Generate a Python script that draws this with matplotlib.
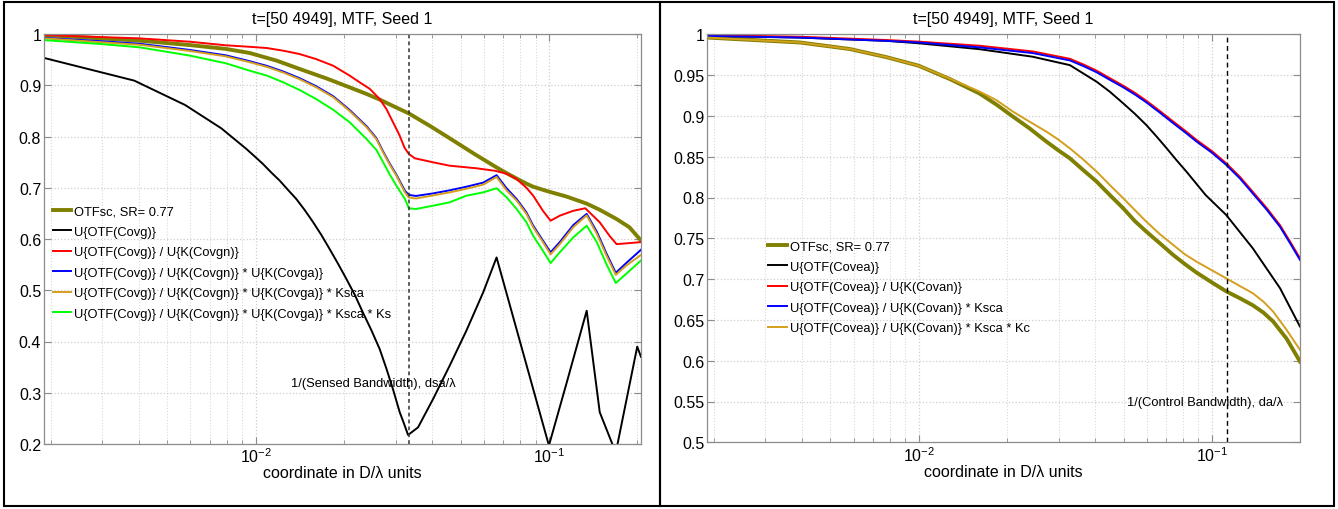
import matplotlib
matplotlib.use('Agg')
import matplotlib.pyplot as plt
from matplotlib.lines import Line2D
from matplotlib.ticker import LogLocator, FixedLocator, NullFormatter

plt.rcParams['font.family'] = ['Liberation Sans', 'DejaVu Sans']

W, H = 1338, 510

# ---- left panel: sensed (Covg) ----
L_OTFSC_X = [0.00191, 0.00297, 0.00402, 0.00595, 0.0079, 0.00954, 0.0118, 0.0141, 0.0175, 0.0209,
             0.0239, 0.0265, 0.0298, 0.0333, 0.0392, 0.0459, 0.0557, 0.0657, 0.0717, 0.0776,
             0.0838, 0.0884, 0.0954, 0.1006, 0.115, 0.1345, 0.149, 0.17, 0.188, 0.206]
L_OTFSC_Y = [0.998, 0.9915, 0.987, 0.9785, 0.971, 0.963, 0.948, 0.932, 0.913, 0.896,
             0.883, 0.872, 0.858, 0.845, 0.821, 0.7965, 0.766, 0.741, 0.7285, 0.718,
             0.708, 0.702, 0.696, 0.692, 0.6827, 0.669, 0.657, 0.639, 0.623, 0.597]

L_BLACK_X = [0.00191, 0.00386, 0.00575, 0.00764, 0.00929, 0.00992, 0.0106, 0.0113, 0.01208, 0.01289,
             0.01377, 0.0147, 0.0157, 0.01676, 0.0179, 0.0191, 0.0204, 0.0218, 0.0232, 0.0248,
             0.0265, 0.0279, 0.0294, 0.031, 0.0320, 0.0331, 0.0358, 0.0403, 0.0459, 0.0523,
             0.0597, 0.0663, 0.0884, 0.1, 0.115, 0.1345, 0.149, 0.169, 0.2, 0.206]
L_BLACK_Y = [0.953, 0.909, 0.8615, 0.816, 0.776, 0.7614, 0.7463, 0.730, 0.714, 0.696,
             0.678, 0.6566, 0.633, 0.6078, 0.580, 0.5518, 0.522, 0.4907, 0.457, 0.4224,
             0.385, 0.3477, 0.307, 0.262, 0.241, 0.2176, 0.2325, 0.288, 0.353, 0.421,
             0.496, 0.564, 0.307, 0.197, 0.320, 0.460, 0.262, 0.183, 0.390, 0.370]

L_RED_X = [0.00191, 0.00297, 0.00402, 0.00595, 0.0079, 0.00954, 0.0109, 0.0124, 0.0141, 0.0161,
           0.0184, 0.0209, 0.0226, 0.0245, 0.0265, 0.0279, 0.0294, 0.031, 0.0322, 0.0333,
           0.0349, 0.0403, 0.0459, 0.0566, 0.0657, 0.072, 0.0776, 0.0838, 0.0884, 0.0954,
           0.1013, 0.1089, 0.121, 0.133, 0.149, 0.161, 0.170, 0.188, 0.206]
L_RED_Y = [0.998, 0.994, 0.9915, 0.985, 0.978, 0.975, 0.9727, 0.9675, 0.961, 0.951,
           0.938, 0.919, 0.906, 0.893, 0.873, 0.854, 0.828, 0.8016, 0.778, 0.766,
           0.7575, 0.7496, 0.743, 0.738, 0.733, 0.727, 0.717, 0.700, 0.6845, 0.655,
           0.6357, 0.6455, 0.655, 0.660, 0.6326, 0.606, 0.590, 0.592, 0.594]

L_COR_X = [0.00191, 0.00297, 0.00402, 0.00595, 0.0079, 0.00954, 0.0109, 0.0124, 0.0141, 0.0161,
           0.0184, 0.0209, 0.0239, 0.0258, 0.0272, 0.0286, 0.0302, 0.0323, 0.0333, 0.0352,
           0.0403, 0.0459, 0.0523, 0.0597, 0.0663, 0.0717, 0.0776, 0.0838, 0.0884, 0.0954,
           0.1013, 0.1089, 0.121, 0.1345, 0.1457, 0.157, 0.169, 0.1833, 0.206]
L_BLUE_Y = [0.9925, 0.986, 0.981, 0.969, 0.9585, 0.947, 0.938, 0.927, 0.914, 0.898,
            0.8785, 0.852, 0.820, 0.797, 0.771, 0.748, 0.7255, 0.694, 0.686, 0.684,
            0.689, 0.695, 0.702, 0.710, 0.7245, 0.699, 0.678, 0.652, 0.626, 0.597,
            0.574, 0.594, 0.627, 0.649, 0.614, 0.572, 0.534, 0.553, 0.579]
L_GOLD_Y = [0.9915, 0.984, 0.979, 0.967, 0.9565, 0.945, 0.936, 0.925, 0.912, 0.896,
            0.8765, 0.850, 0.818, 0.795, 0.769, 0.746, 0.7235, 0.691, 0.681, 0.679,
            0.685, 0.691, 0.698, 0.706, 0.721, 0.695, 0.675, 0.649, 0.623, 0.594,
            0.570, 0.590, 0.623, 0.646, 0.610, 0.568, 0.530, 0.548, 0.569]
L_GREEN_Y = [0.988, 0.9805, 0.974, 0.958, 0.943, 0.9285, 0.919, 0.906, 0.891, 0.873,
             0.852, 0.828, 0.795, 0.774, 0.750, 0.727, 0.704, 0.678, 0.660, 0.6585,
             0.665, 0.6716, 0.6845, 0.691, 0.699, 0.6815, 0.6585, 0.6326, 0.606, 0.577,
             0.553, 0.574, 0.603, 0.626, 0.5935, 0.551, 0.514, 0.532, 0.558]

L_LABELS = ['OTFsc, SR= 0.77',
            'U{OTF(Covg)}',
            'U{OTF(Covg)} / U{K(Covgn)}',
            'U{OTF(Covg)} / U{K(Covgn)} * U{K(Covga)}',
            'U{OTF(Covg)} / U{K(Covgn)} * U{K(Covga)} * Ksca',
            'U{OTF(Covg)} / U{K(Covgn)} * U{K(Covga)} * Ksca * Ks']
L_DSA = 0.0333

# ---- right panel: control (Covea) ----
R_OTF_X = [0.0019, 0.00393, 0.00581, 0.00776, 0.01, 0.0128, 0.0161, 0.0184, 0.021, 0.0239,
           0.0273, 0.0299, 0.0328, 0.0364, 0.0405, 0.0449, 0.0499, 0.0546, 0.0598, 0.0664,
           0.0739, 0.0809, 0.0887, 0.101, 0.112, 0.124, 0.138, 0.150, 0.162, 0.180, 0.2]
R_OTFSC_Y = [0.996, 0.990, 0.982, 0.972, 0.9615, 0.945, 0.9276, 0.914, 0.899, 0.8847,
             0.8684, 0.858, 0.848, 0.8337, 0.8194, 0.803, 0.7867, 0.7712, 0.7582, 0.7441,
             0.7295, 0.7185, 0.708, 0.695, 0.685, 0.677, 0.668, 0.659, 0.648, 0.627, 0.599]
R_GOLD_Y = [0.996, 0.990, 0.982, 0.972, 0.9615, 0.9455, 0.930, 0.9194, 0.9051, 0.8929,
            0.8806, 0.8712, 0.8602, 0.8467, 0.8316, 0.8153, 0.799, 0.7847, 0.7704, 0.7553,
            0.7418, 0.7304, 0.7214, 0.71, 0.701, 0.692, 0.6827, 0.6724, 0.6602, 0.6378, 0.6133]

R_BLACK_X = [0.0019, 0.00393, 0.00776, 0.01, 0.0161, 0.0245, 0.0328, 0.0405, 0.0449, 0.0499,
             0.0546, 0.0598, 0.0649, 0.0702, 0.0757, 0.082, 0.0953, 0.112, 0.138, 0.171, 0.2]
R_BLACK_Y = [0.998, 0.996, 0.992, 0.989, 0.9818, 0.9725, 0.9622, 0.9418, 0.9296, 0.9153,
             0.9027, 0.8888, 0.8745, 0.8602, 0.846, 0.8316, 0.803, 0.7786, 0.7378, 0.6888, 0.6418]

R_RED_X = [0.0019, 0.00393, 0.00776, 0.01, 0.0161, 0.0245, 0.0328, 0.0365, 0.0405, 0.045,
           0.0499, 0.0548, 0.0598, 0.0665, 0.0739, 0.081, 0.0887, 0.1, 0.112, 0.125,
           0.138, 0.154, 0.171, 0.185, 0.2]
R_RED_Y = [0.999, 0.997, 0.993, 0.991, 0.986, 0.979, 0.970, 0.963, 0.9554, 0.946,
           0.937, 0.928, 0.9186, 0.906, 0.893, 0.882, 0.8706, 0.857, 0.842, 0.825,
           0.807, 0.787, 0.766, 0.746, 0.7255]
R_BLUE_Y = [0.998, 0.996, 0.992, 0.990, 0.984, 0.977, 0.968, 0.961, 0.9534, 0.944,
            0.935, 0.926, 0.9166, 0.904, 0.891, 0.880, 0.8686, 0.855, 0.840, 0.823,
            0.805, 0.785, 0.764, 0.744, 0.7235]

R_LABELS = ['OTFsc, SR= 0.77',
            'U{OTF(Covea)}',
            'U{OTF(Covea)} / U{K(Covan)}',
            'U{OTF(Covea)} / U{K(Covan)} * Ksca',
            'U{OTF(Covea)} / U{K(Covan)} * Ksca * Kc']
R_DA = 0.113

OLIVE = '#808000'
GOLD = '#d49f1c'
GREEN = '#00ff00'
SPINE = '#8c8c8c'


def style_axes(ax, xlim, ylim, yticks, ylabels):
    ax.set_xscale('log')
    ax.set_xlim(*xlim)
    ax.set_ylim(*ylim)
    ax.set_yticks(yticks)
    ax.set_yticklabels(ylabels)
    ax.xaxis.set_major_locator(FixedLocator([1e-2, 1e-1]))
    ax.xaxis.set_minor_locator(LogLocator(base=10, subs=range(2, 10)))
    ax.xaxis.set_minor_formatter(NullFormatter())
    ax.grid(True, which='major', color='#cfcfcf', ls=':', lw=0.9)
    ax.grid(True, which='minor', axis='x', color='#d8d8d8', ls=':', lw=0.8)
    ax.tick_params(which='both', direction='in', top=True, right=True, color=SPINE,
                   labelsize=11.5, pad=2)
    ax.tick_params(which='major', length=5)
    ax.tick_params(which='minor', length=3)
    for s in ax.spines.values():
        s.set_color(SPINE)
        s.set_linewidth(0.9)
    ax.set_title('t=[50 4949], MTF, Seed 1', fontsize=11.5, pad=8)
    ax.set_xlabel('coordinate in D/\u03bb units', fontsize=11.5, labelpad=0)


fig = plt.figure(figsize=(W / 100, H / 100), dpi=100)

# left axes
ax1 = fig.add_axes([44 / W, 1 - 445 / H, 597 / W, 410 / H])
ax1.plot(L_OTFSC_X, L_OTFSC_Y, color=OLIVE, lw=2.8)
ax1.plot(L_BLACK_X, L_BLACK_Y, color='k', lw=1.4)
ax1.plot(L_RED_X, L_RED_Y, color='#ff0000', lw=1.4)
ax1.plot(L_COR_X, L_BLUE_Y, color='#0000ff', lw=1.4)
ax1.plot(L_COR_X, L_GOLD_Y, color=GOLD, lw=1.4)
ax1.plot(L_COR_X, L_GREEN_Y, color=GREEN, lw=1.4)
ax1.axvline(L_DSA, color='#333333', ls=(0, (2.5, 2)), lw=1.1)
ax1.text(0.01316, 0.319, '1/(Sensed Bandwidth), dsa/\u03bb', fontsize=9.3,
         ha='left', va='center')
style_axes(ax1, (0.0019, 0.206), (0.2, 1.0), [0.2, 0.3, 0.4, 0.5, 0.6, 0.7, 0.8, 0.9, 1.0],
           ['0.2', '0.3', '0.4', '0.5', '0.6', '0.7', '0.8', '0.9', '1'])

l_colors = [OLIVE, 'k', '#ff0000', '#0000ff', GOLD, GREEN]
l_widths = [2.8, 1.4, 1.4, 1.4, 1.4, 1.4]
handles = [Line2D([], [], color=c, lw=w) for c, w in zip(l_colors, l_widths)]
fig.legend(handles, L_LABELS, loc='center left', bbox_to_anchor=(52.5 / W, 1 - 263.5 / H),
           frameon=False, fontsize=9.3, handlelength=1.45, handletextpad=0.25,
           labelspacing=0.66, borderpad=0, borderaxespad=0)

# right axes
ax2 = fig.add_axes([707.3 / W, 1 - 443.3 / H, 592.7 / W, 408 / H])
ax2.plot(R_OTF_X, R_OTFSC_Y, color=OLIVE, lw=2.8)
ax2.plot(R_BLACK_X, R_BLACK_Y, color='k', lw=1.4)
ax2.plot(R_RED_X, R_RED_Y, color='#ff0000', lw=1.4)
ax2.plot(R_RED_X, R_BLUE_Y, color='#0000ff', lw=1.4)
ax2.plot(R_OTF_X, R_GOLD_Y, color=GOLD, lw=1.4)
ax2.axvline(R_DA, color='k', ls=(0, (3.5, 2.5)), lw=1.0)
ax2.text(0.0513, 0.549, '1/(Control Bandwidth), da/\u03bb', fontsize=9.3,
         ha='left', va='center')
style_axes(ax2, (0.0019, 0.2), (0.5, 1.0),
           [0.5, 0.55, 0.6, 0.65, 0.7, 0.75, 0.8, 0.85, 0.9, 0.95, 1.0],
           ['0.5', '0.55', '0.6', '0.65', '0.7', '0.75', '0.8', '0.85', '0.9', '0.95', '1'])

r_colors = [OLIVE, 'k', '#ff0000', '#0000ff', GOLD]
r_widths = [2.8, 1.4, 1.4, 1.4, 1.4]
handles = [Line2D([], [], color=c, lw=w) for c, w in zip(r_colors, r_widths)]
fig.legend(handles, R_LABELS, loc='center left', bbox_to_anchor=(768 / W, 1 - 288.3 / H),
           frameon=False, fontsize=9.3, handlelength=1.45, handletextpad=0.25,
           labelspacing=0.66, borderpad=0, borderaxespad=0)

# panel frames
for x0, x1 in [(4, 660), (660, 1334)]:
    fig.add_artist(plt.Rectangle((x0 / W, 3 / H), (x1 - x0) / W, (507 - 3) / H,
                                 transform=fig.transFigure, fill=False,
                                 edgecolor='k', lw=1.5))

fig.savefig('out.png', dpi=100)
